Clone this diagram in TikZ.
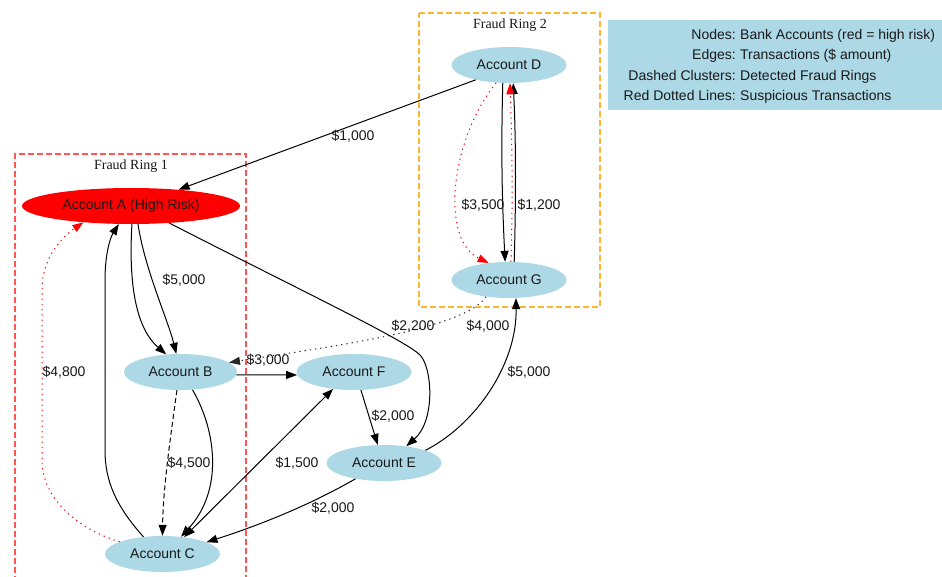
\documentclass[tikz,border=0pt]{standalone}
\usepackage{fontspec}
\setmainfont{Liberation Sans}
\newfontfamily\ringfont{Liberation Serif}
\usetikzlibrary{shapes.geometric,arrows.meta}
\definecolor{lblue}{RGB}{173,216,230}
\definecolor{ringred}{RGB}{255,85,85}
\definecolor{ringorange}{RGB}{255,180,50}
\definecolor{txt}{RGB}{25,25,25}
\begin{document}
\begin{tikzpicture}[x=1pt,y=-1pt,
  acct/.style={ellipse, fill=lblue, draw=none, minimum width=115pt, minimum height=36pt, inner sep=0pt, text=txt, font=\fontsize{14}{16}\selectfont},
  lbl/.style={inner sep=0pt, text=txt, font=\fontsize{14}{16}\selectfont},
  ringlbl/.style={inner sep=0pt, text=txt, font=\ringfont\fontsize{14}{16}\selectfont},
  edge/.style={line width=1pt, -{Triangle[length=11pt,width=8pt]}},
  susp/.style={edge, red, dash pattern=on 1.3pt off 4pt},
  grey dots/.style={edge, black!85, dash pattern=on 1.3pt off 4pt},
  dashedge/.style={edge, dash pattern=on 5pt off 3pt},
  ringbox/.style={line width=1.05pt, dash pattern=on 6pt off 3pt}]
\useasboundingbox (0,0) rectangle (942,577);
\fill[white] (0,0) rectangle (942,577);

% clusters
\draw[ringbox, ringorange] (419,13) -- (600,13) -- (600,307) -- (419,307) -- cycle;
\draw[ringbox, ringred] (246,590) -- (246,154) -- (15,154) -- (15,590);
\node[ringlbl] (r2) at (510,25) {Fraud Ring 2};
\node[ringlbl] (r1) at (131,166) {Fraud Ring 1};

% legend
\fill[lblue] (608,20) rectangle (942,110);
\node[lbl, anchor=base east] (k1) at (736,39.3) {Nodes:};
\node[lbl, anchor=base west] (v1) at (740,39.3) {Bank Accounts (red = high risk)};
\node[lbl, anchor=base east] (k2) at (736,60) {Edges:};
\node[lbl, anchor=base west] (v2) at (740,60) {Transactions (\$ amount)};
\node[lbl, anchor=base east] (k3) at (736,80.5) {Dashed Clusters:};
\node[lbl, anchor=base west] (v3) at (740,80.5) {Detected Fraud Rings};
\node[lbl, anchor=base east] (k4) at (736,101) {Red Dotted Lines:};
\node[lbl, anchor=base west] (v4) at (740,101) {Suspicious Transactions};

% accounts
\node[acct] (D) at (509,65) {Account D};
\node[acct] (G) at (509,280) {Account G};
\node[acct, fill=red, minimum width=218pt] (A) at (131,206) {Account A (High Risk)};
\node[acct, minimum width=113pt] (B) at (180.5,372) {Account B};
\node[acct] (F) at (354,372) {Account F};
\node[acct] (E) at (384,463) {Account E};
\node[acct] (C) at (162.5,554) {Account C};

% edges
\draw[edge] (D.204) -- (A.19.5);
\draw[edge] (D.251) .. controls (501,150) and (502,200) .. (G.102);
\draw[edge] (G.74) .. controls (516,200) and (516,140) .. (D.283);
\draw[susp] (G.84) .. controls (513,200) and (512,140) .. (D.273);
\draw[susp] (D.234) .. controls (450,140) and (440,240) .. (G.140);
\draw[grey dots] (G.216) .. controls (465,330) and (320,348) .. (B.11);
\draw[edge] (A.273) .. controls (128,290) and (138,330) .. (B.129.5);
\draw[edge] (A.291) .. controls (145,270) and (168,320) .. (B.103);
\draw[edge] (A.336) .. controls (300,290) and (405,340) .. (420,355)
            .. controls (432,367) and (436,420) .. (E.37);
\draw[edge] (C.138) .. controls (115,505) and (105,480) .. (105,450) -- (105,280)
            .. controls (105,255) and (110,238) .. (A.236);
\draw[susp] (C.164) .. controls (80,530) and (42,500) .. (42,460) -- (42,290)
            .. controls (42,255) and (65,235) .. (A.199);
\draw[edge] (B.357) -- (F.183);
\draw[dashedge] (B.259) .. controls (170,440) and (163,490) .. (C.90);
\draw[edge] (B.304) .. controls (216,430) and (224,490) .. (C.43.5);
\draw[edge, {Triangle[length=11pt,width=8pt]}-{Triangle[length=11pt,width=8pt]}] (C.38) -- (F.219);
\draw[edge] (E.209) .. controls (310,505) and (260,525) .. (C.15);
\draw[edge] (F.291) -- (E.109);
\draw[edge] (E.17.6) .. controls (475,425) and (517,365) .. (G.291);

% edge labels
\node[lbl] (l1) at (353,136) {\$1,000};
\node[lbl] (l2) at (483,205) {\$3,500};
\node[lbl] (l3) at (539,205) {\$1,200};
\node[lbl] (l4) at (184,280) {\$5,000};
\node[lbl] (l5) at (413,326) {\$2,200};
\node[lbl] (l6) at (488,326) {\$4,000};
\node[lbl] (l7) at (268,360) {\$3,000};
\node[lbl] (l8) at (64,372) {\$4,800};
\node[lbl] (l9) at (393,416) {\$2,000};
\node[lbl] (l10) at (189,463) {\$4,500};
\node[lbl] (l11) at (297,463) {\$1,500};
\node[lbl] (l12) at (333,508) {\$2,000};
\node[lbl] (l13) at (529,372) {\$5,000};
\end{tikzpicture}
\end{document}
